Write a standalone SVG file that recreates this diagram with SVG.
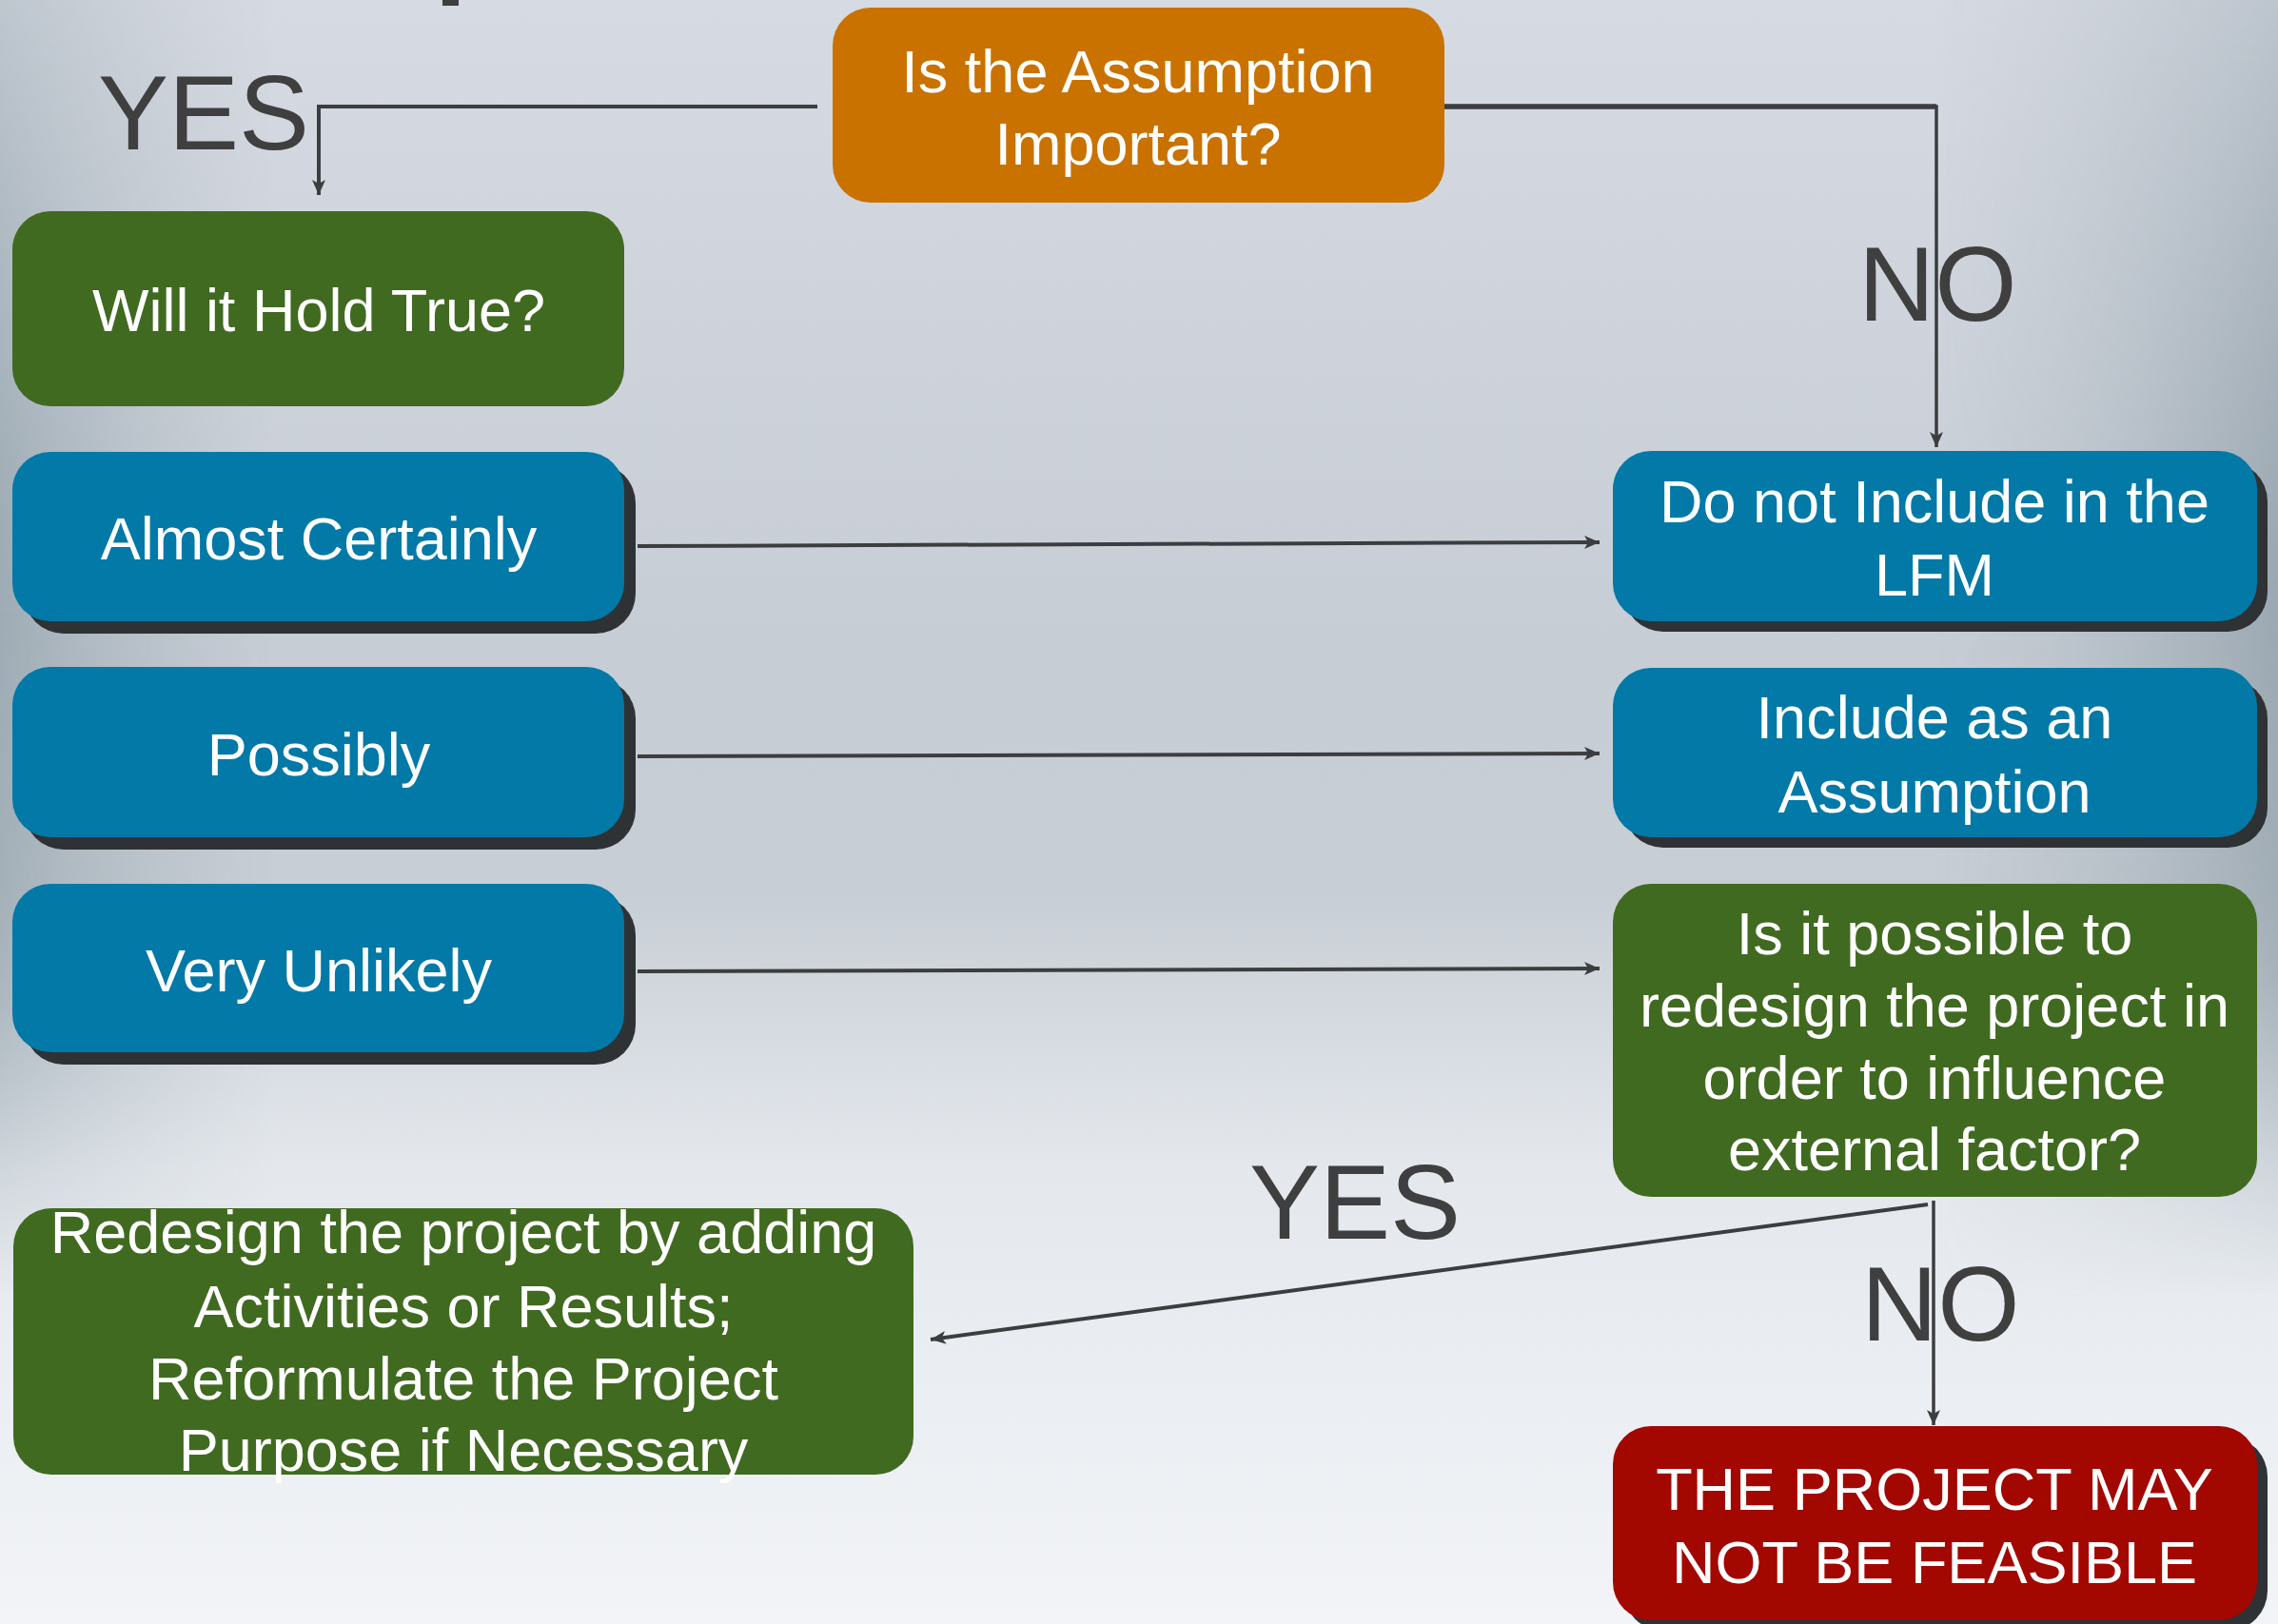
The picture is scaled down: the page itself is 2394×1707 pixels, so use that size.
<svg xmlns="http://www.w3.org/2000/svg" width="2394" height="1707" viewBox="0 0 2394 1707">
<defs>
<linearGradient id="bgv" x1="0" y1="0" x2="0" y2="1">
<stop offset="0" stop-color="#d6dae2"/>
<stop offset="0.4" stop-color="#c7cdd5"/>
<stop offset="0.55" stop-color="#c8ced5"/>
<stop offset="0.72" stop-color="#e4e8ed"/>
<stop offset="1" stop-color="#f2f4f7"/>
</linearGradient>
<linearGradient id="bgh" x1="0" y1="0" x2="1" y2="0">
<stop offset="0" stop-color="#8f9fa8" stop-opacity="0.75"/>
<stop offset="0.12" stop-color="#a9b5bd" stop-opacity="0"/>
<stop offset="0.85" stop-color="#a9b5bd" stop-opacity="0"/>
<stop offset="1" stop-color="#8797a1" stop-opacity="0.7"/>
</linearGradient>
<linearGradient id="fade" x1="0" y1="0" x2="0" y2="1">
<stop offset="0" stop-color="#fff" stop-opacity="0.45"/>
<stop offset="0.35" stop-color="#fff" stop-opacity="1"/>
<stop offset="0.6" stop-color="#fff" stop-opacity="0.8"/>
<stop offset="0.8" stop-color="#fff" stop-opacity="0"/>
</linearGradient>
<mask id="m"><rect width="2394" height="1707" fill="url(#fade)"/></mask>
<marker id="ah" markerUnits="userSpaceOnUse" markerWidth="18" markerHeight="16" refX="16" refY="7" orient="auto">
<path d="M0,0 L16,7 L0,14 L4,7 z" fill="#3c3d3f"/>
</marker>
<style>
.box text{font-family:"Liberation Sans",Arial,sans-serif;font-size:63px;fill:#ffffff;text-anchor:middle}
.lbl{font-family:"Liberation Sans",Arial,sans-serif;font-size:111px;fill:#3f3f40}
.blue{fill:#0279a6}
.green{fill:#416a21}
.orange{fill:#c97200}
.red{fill:#a20800}
.sh{fill:#2f3234}
.conn path{fill:none;stroke:#3c3d3f;stroke-width:4}
</style>
</defs>
<rect width="2394" height="1707" fill="url(#bgv)"/>
<rect width="2394" height="1707" fill="url(#bgh)" mask="url(#m)"/>
<rect x="465" y="0" width="17" height="6" fill="#3f3f40"/>

<g id="connectors" class="conn">
<path d="M859,112 H335 V205" marker-end="url(#ah)"/>
<path d="M1518,112 H2035 V470" marker-end="url(#ah)" style="stroke-width:3.5"/>
<path d="M1518,112 H2035" style="stroke-width:5.5"/>
<path d="M670,574 L1681,570" marker-end="url(#ah)"/>
<path d="M670,795 L1681,792" marker-end="url(#ah)"/>
<path d="M670,1021 L1681,1018" marker-end="url(#ah)"/>
<path d="M2026,1266 L978,1408" marker-end="url(#ah)"/>
<path d="M2032,1262 V1498" marker-end="url(#ah)" style="stroke-width:3.5"/>
</g>

<g id="labels">
<text class="lbl" x="103" y="157">YES</text>
<text class="lbl" x="1953" y="337">NO</text>
<text class="lbl" x="1313" y="1302">YES</text>
<text class="lbl" x="1956" y="1409">NO</text>
</g>

<g id="n-important" class="box">
<rect class="orange" x="875" y="8" width="643" height="205" rx="40"/>
<text x="1196" y="97">Is the Assumption</text>
<text x="1196" y="173">Important?</text>
</g>

<g id="n-hold" class="box">
<rect class="green" x="13" y="222" width="643" height="205" rx="40"/>
<text x="335" y="348">Will it Hold True?</text>
</g>

<g id="n-almost" class="box">
<rect class="sh" x="25" y="487" width="643" height="179" rx="42"/>
<rect class="blue" x="13" y="475" width="643" height="178" rx="40"/>
<text x="335" y="588">Almost Certainly</text>
</g>

<g id="n-possibly" class="box">
<rect class="sh" x="25" y="713" width="643" height="180" rx="42"/>
<rect class="blue" x="13" y="701" width="643" height="179" rx="40"/>
<text x="335" y="815">Possibly</text>
</g>

<g id="n-unlikely" class="box">
<rect class="sh" x="25" y="941" width="643" height="178" rx="42"/>
<rect class="blue" x="13" y="929" width="643" height="177" rx="40"/>
<text x="335" y="1042">Very Unlikely</text>
</g>

<g id="n-donot" class="box">
<rect class="sh" x="1706" y="485" width="677" height="179" rx="42"/>
<rect class="blue" x="1695" y="474" width="677" height="179" rx="40"/>
<text x="2033" y="549">Do not Include in the</text>
<text x="2033" y="626">LFM</text>
</g>

<g id="n-include" class="box">
<rect class="sh" x="1706" y="713" width="677" height="178" rx="42"/>
<rect class="blue" x="1695" y="702" width="677" height="178" rx="40"/>
<text x="2033" y="776">Include as an</text>
<text x="2033" y="854">Assumption</text>
</g>

<g id="n-redesign-q" class="box">
<rect class="green" x="1695" y="929" width="677" height="329" rx="40"/>
<text x="2033" y="1003">Is it possible to</text>
<text x="2033" y="1079">redesign the project in</text>
<text x="2033" y="1155">order to influence</text>
<text x="2033" y="1230">external factor?</text>
</g>

<g id="n-redesign" class="box">
<rect class="green" x="14" y="1270" width="946" height="280" rx="40"/>
<text x="487" y="1317">Redesign the project by adding</text>
<text x="487" y="1395">Activities or Results;</text>
<text x="487" y="1471">Reformulate the Project</text>
<text x="487" y="1546">Purpose if Necessary</text>
</g>

<g id="n-notfeasible" class="box">
<rect class="sh" x="1706" y="1510" width="677" height="204" rx="42"/>
<rect class="red" x="1695" y="1499" width="677" height="204" rx="40"/>
<text x="2033" y="1587">THE PROJECT MAY</text>
<text x="2033" y="1664">NOT BE FEASIBLE</text>
</g>
</svg>
